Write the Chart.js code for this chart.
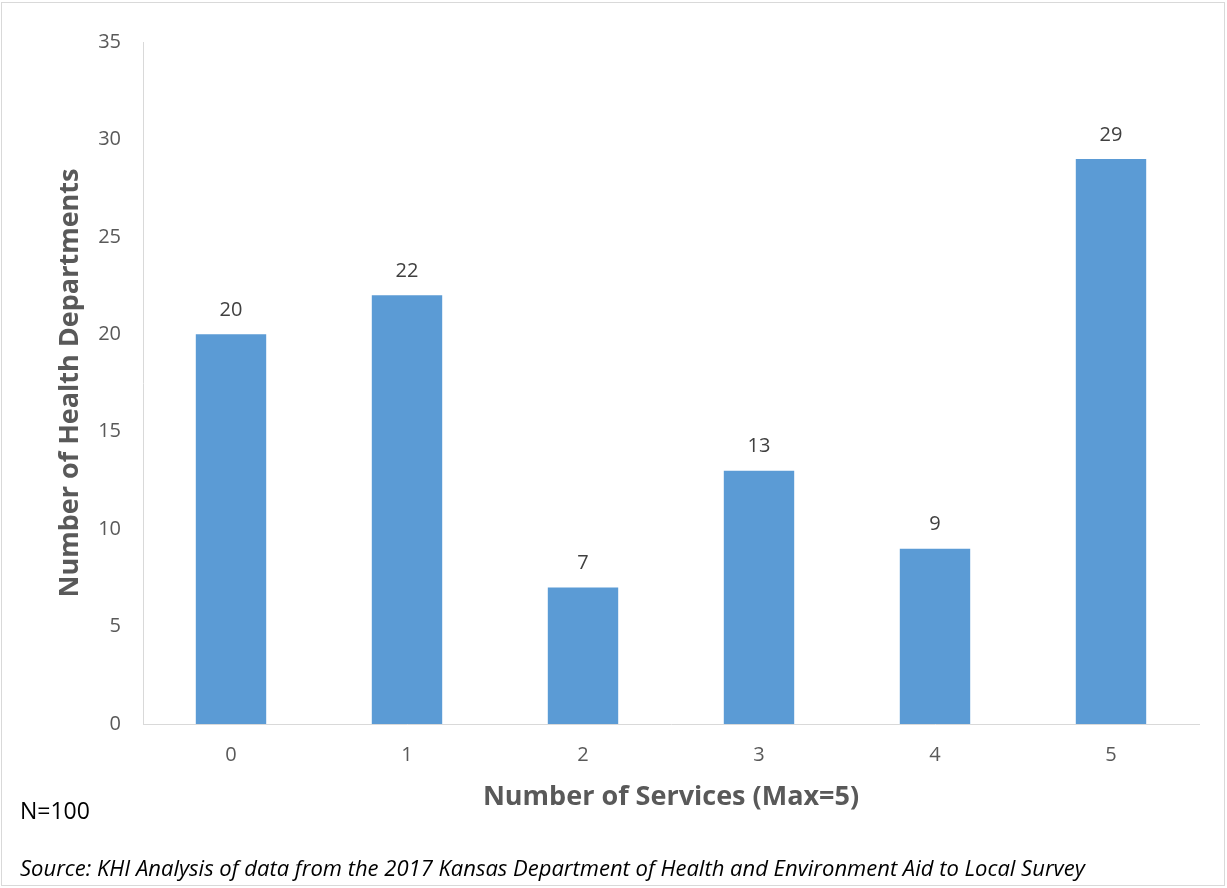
<!DOCTYPE html>
<html>
<head>
<meta charset="utf-8">
<script src="https://cdn.jsdelivr.net/npm/chart.js@4/dist/chart.umd.min.js"></script>
<style>
  html, body { margin: 0; padding: 0; background: #fff; }
  #wrap { width: 1227px; height: 888px; }
</style>
</head>
<body>
<div id="wrap"><canvas id="chart" width="1227" height="888"></canvas></div>
<script>
// services offered (0..5) and how many health departments offer that many
const serviceCounts = ['0', '1', '2', '3', '4', '5'];
const departments = [20, 22, 7, 13, 9, 29];
const yTicks = [0, 5, 10, 15, 20, 25, 30, 35];

const FONT = '"Open Sans", "Liberation Sans", sans-serif';
const AXIS_GREY = '#d9d9d9';

// value labels above each bar
const barLabels = {
  id: 'barLabels',
  afterDatasetsDraw(chart) {
    const ctx = chart.ctx;
    const meta = chart.getDatasetMeta(0);
    ctx.save();
    ctx.font = '20px ' + FONT;
    ctx.fillStyle = '#404040';
    ctx.textAlign = 'center';
    ctx.textBaseline = 'middle';
    meta.data.forEach((bar, i) => {
      ctx.fillText(String(departments[i]), bar.x, bar.y - 24);
    });
    ctx.restore();
  }
};

// outer frame, sample size and source note
const notes = {
  id: 'notes',
  afterDraw(chart) {
    const ctx = chart.ctx;
    ctx.save();
    ctx.strokeStyle = AXIS_GREY;
    ctx.lineWidth = 1;
    ctx.strokeRect(1.5, 2.5, 1223, 883);
    ctx.fillStyle = '#000';
    ctx.textAlign = 'left';
    ctx.textBaseline = 'middle';
    ctx.font = '23px ' + FONT;
    ctx.fillText('N=100', 20, 812);
    ctx.font = 'italic 22px ' + FONT;
    ctx.fillText('Source: KHI Analysis of data from the 2017 Kansas Department of Health and Environment Aid to Local Survey', 20, 870);
    ctx.restore();
  }
};

new Chart(document.getElementById('chart'), {
  type: 'bar',
  data: {
    labels: serviceCounts,
    datasets: [{
      data: departments,
      backgroundColor: '#5b9bd5',
      borderWidth: 0,
      categoryPercentage: 1,
      barPercentage: 0.4
    }]
  },
  options: {
    responsive: false,
    animation: false,
    layout: { padding: { left: 0, top: 42, right: 28, bottom: 0 } },
    plugins: {
      legend: { display: false },
      tooltip: { enabled: false }
    },
    scales: {
      x: {
        grid: { display: false, drawTicks: false },
        border: { display: true, color: AXIS_GREY, width: 1 },
        ticks: { color: '#595959', font: { family: FONT, size: 20 }, padding: 19 },
        title: {
          display: true,
          text: 'Number of Services (Max=5)',
          color: '#595959',
          font: { family: FONT, size: 27, weight: 'bold' },
          padding: { top: 0, bottom: 74 }
        },
        afterFit(scale) { scale.height = 164; }
      },
      y: {
        min: 0,
        max: 35,
        afterBuildTicks(scale) { scale.ticks = yTicks.map(v => ({ value: v })); },
        grid: { display: false, drawTicks: false },
        border: { display: true, color: AXIS_GREY, width: 1 },
        ticks: { color: '#595959', font: { family: FONT, size: 20 }, padding: 22 },
        title: {
          display: true,
          text: 'Number of Health Departments',
          color: '#595959',
          font: { family: FONT, size: 27, weight: 'bold' },
          padding: { top: 54, bottom: 0 }
        },
        afterFit(scale) { scale.width = 143; }
      }
    }
  },
  plugins: [barLabels, notes]
});
</script>
</body>
</html>
